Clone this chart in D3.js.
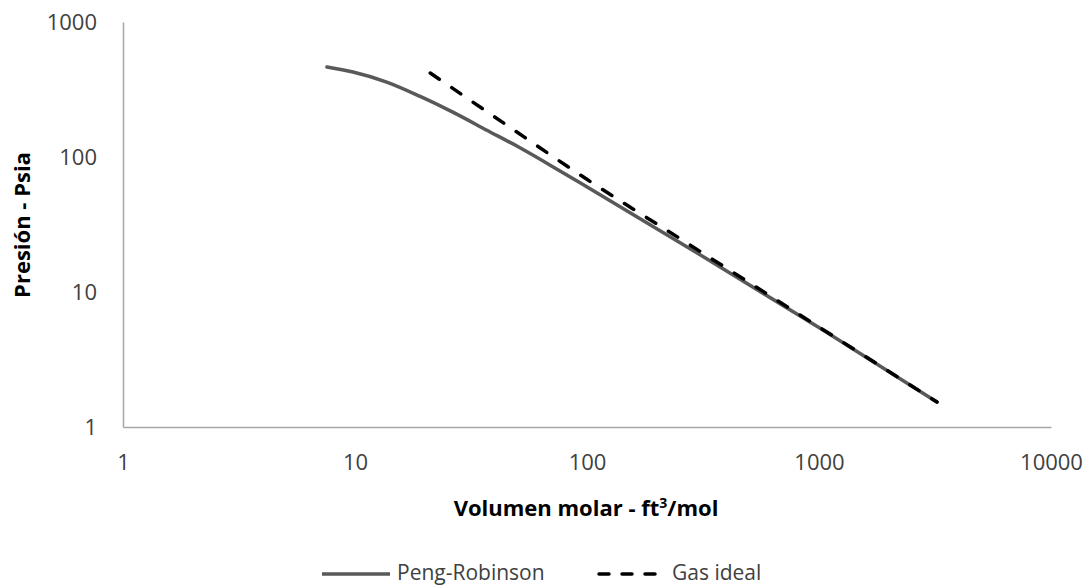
<!DOCTYPE html>
<html>
<head>
<meta charset="utf-8">
<script src="https://cdn.jsdelivr.net/npm/d3@7"></script>
<style>
  html, body { margin: 0; padding: 0; background: #fff; }
  svg { display: block; }
  text { font-family: "Open Sans", "Liberation Sans", sans-serif; }
</style>
</head>
<body>
<svg id="chart" width="1091" height="587"></svg>
<script>
// ---- data ----
const prVolume   = [7.57, 9.8, 13.7, 19.1, 26.4, 37, 51.4, 76.5, 101, 284, 1040, 3226];
const prPressure = [464, 426, 359, 281, 215, 158, 117, 78.8, 59.4, 20.5, 5.23, 1.53];
const idealVolume   = [21.1, 43, 101, 257, 3226];
const idealPressure = [419, 182, 67.5, 24.3, 1.53];
const xTicks = [1, 10, 100, 1000, 10000];
const yTicks = [1, 10, 100, 1000];
const seriesNames = ["Peng-Robinson", "Gas ideal"];
const xTitle = "Volumen molar - ft";
const yTitle = "Presión - Psia";

const svg = d3.select("#chart");
const x = d3.scaleLog().domain([1, 10000]).range([123, 1051]);
const y = d3.scaleLog().domain([1, 1000]).range([427, 22]);

const axisColor = "#a6a6a6";
const labelColor = "#404040";

// axes
const gx = svg.append("g").attr("transform", "translate(0,427)")
  .call(d3.axisBottom(x).tickValues(xTicks).tickFormat(d3.format("d"))
        .tickSize(0).tickSizeOuter(0).tickPadding(27));
const gy = svg.append("g").attr("transform", "translate(123,0)")
  .call(d3.axisLeft(y).tickValues(yTicks).tickFormat(d3.format("d"))
        .tickSize(0).tickSizeOuter(0).tickPadding(26));
[gx, gy].forEach(g => {
  g.select(".domain").attr("stroke", axisColor).attr("stroke-width", 1.5);
  g.selectAll("text").attr("font-size", 22).attr("fill", labelColor)
    .attr("font-family", "'Open Sans', sans-serif");
});

// axis titles
const xt = svg.append("text").attr("x", 586).attr("y", 516)
  .attr("text-anchor", "middle").attr("font-size", 22).attr("font-weight", "bold")
  .attr("fill", "#000");
xt.append("tspan").text(xTitle);
xt.append("tspan").attr("font-size", 14).attr("dy", -8).text("3");
xt.append("tspan").attr("dy", 8).text("/mol");

svg.append("text").attr("transform", "translate(30,225) rotate(-90)")
  .attr("text-anchor", "middle").attr("font-size", 22).attr("font-weight", "bold")
  .attr("fill", "#000").text(yTitle);

// lines
const line = d3.line().x(d => x(d[0])).y(d => y(d[1])).curve(d3.curveMonotoneX);
const prData = prVolume.map((v, i) => [v, prPressure[i]]);
const idealData = idealVolume.map((v, i) => [v, idealPressure[i]]);

svg.append("path").datum(prData).attr("d", line)
  .attr("fill", "none").attr("stroke", "#595959").attr("stroke-width", 3.5)
  .attr("stroke-linecap", "round");
svg.append("path").datum(idealData).attr("d", line)
  .attr("fill", "none").attr("stroke", "#000").attr("stroke-width", 3.5)
  .attr("stroke-dasharray", "11,15").attr("stroke-linecap", "round");

// legend
const legend = [
  { name: seriesNames[0], x1: 322, x2: 390, tx: 397, stroke: "#595959", dash: null },
  { name: seriesNames[1], x1: 599, x2: 664, tx: 672, stroke: "#000", dash: "10,13" }
];
legend.forEach(l => {
  svg.append("line").attr("x1", l.x1).attr("x2", l.x2).attr("y1", 574).attr("y2", 574)
    .attr("stroke", l.stroke).attr("stroke-width", 3.5)
    .attr("stroke-dasharray", l.dash).attr("stroke-linecap", l.dash ? "round" : "butt");
  svg.append("text").attr("x", l.tx).attr("y", 580).attr("font-size", 21)
    .attr("fill", labelColor).text(l.name);
});
</script>
</body>
</html>
